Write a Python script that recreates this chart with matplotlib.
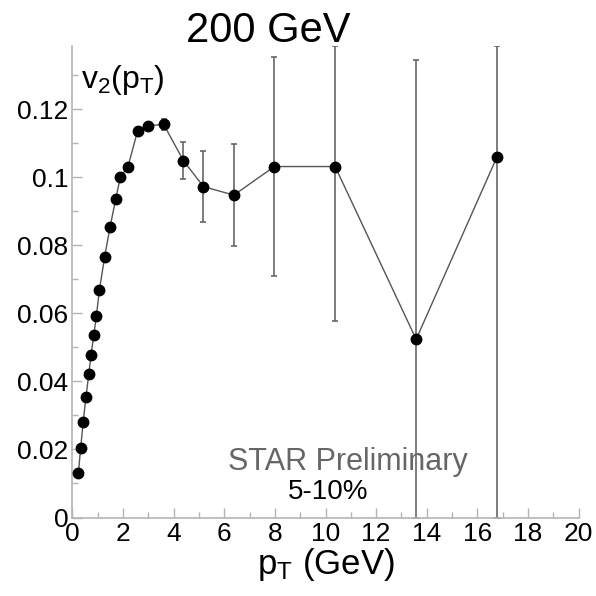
import matplotlib
matplotlib.use('Agg')
import matplotlib.pyplot as plt
from matplotlib.ticker import MultipleLocator, FixedLocator

plt.rcParams['font.family'] = ['Liberation Sans', 'DejaVu Sans']
plt.rcParams['mathtext.fontset'] = 'custom'
plt.rcParams['mathtext.rm'] = 'Liberation Sans'
plt.rcParams['mathtext.it'] = 'Liberation Sans'

# v2(pT), 200 GeV, 5-10% centrality
pt  = [0.24, 0.33, 0.43, 0.54, 0.65, 0.74, 0.85, 0.95, 1.07, 1.28,
       1.49, 1.72, 1.90, 2.20, 2.58, 2.98, 3.61, 4.39, 5.18, 6.38,
       7.98, 10.38, 13.58, 16.77]
v2  = [0.0130, 0.0204, 0.0281, 0.0354, 0.0421, 0.0478, 0.0537, 0.0592, 0.0669, 0.0767,
       0.0854, 0.0938, 0.1002, 0.1032, 0.1137, 0.1152, 0.1156, 0.1049, 0.0973, 0.0948,
       0.1032, 0.1032, 0.0524, 0.1060]
err = [0.0003, 0.0003, 0.0003, 0.0003, 0.0003, 0.0003, 0.0003, 0.0003, 0.0004, 0.0004,
       0.0004, 0.0005, 0.0005, 0.0006, 0.0007, 0.0009, 0.0017, 0.0054, 0.0105, 0.0150,
       0.0322, 0.0453, 0.0822, 0.1200]

xmin, xmax = 0, 20
ymin, ymax = 0, 0.1385

# ROOT-style: error bars cut at the frame edge
err_lo = [min(e, v - ymin) for v, e in zip(v2, err)]
err_hi = [min(e, ymax - v) for v, e in zip(v2, err)]

fig = plt.figure(figsize=(5.96, 5.96), dpi=100)
ax = fig.add_axes([0.1213, 0.1317, 0.8497, 0.7903])

ax.plot(pt, v2, color='#555555', lw=1.0, zorder=2)
ax.errorbar(pt, v2, yerr=[err_lo, err_hi], fmt='none', ecolor='#666666',
            elinewidth=1.2, capsize=2.5, capthick=1.2, zorder=2)
ax.plot(pt, v2, 'o', color='black', ms=7.5, zorder=3)

ax.set_xlim(xmin, xmax)
ax.set_ylim(ymin, ymax)

for s in ['top', 'right']:
    ax.spines[s].set_visible(False)
for s in ['left', 'bottom']:
    ax.spines[s].set_color('#b4b4b4')
    ax.spines[s].set_linewidth(1.2)

ax.xaxis.set_major_locator(MultipleLocator(2))
ax.xaxis.set_minor_locator(MultipleLocator(1))
ax.yaxis.set_major_locator(FixedLocator([0, 0.02, 0.04, 0.06, 0.08, 0.1, 0.12]))
ax.yaxis.set_minor_locator(MultipleLocator(0.01))
ax.set_yticklabels(['0', '0.02', '0.04', '0.06', '0.08', '0.1', '0.12'])

ax.tick_params(which='both', direction='in', color='#b4b4b4', width=1.0,
               labelsize=19, labelcolor='black')
ax.tick_params(which='major', length=7)
ax.tick_params(which='minor', length=4)
ax.tick_params(axis='x', pad=3)
ax.tick_params(axis='y', pad=3)

ax.set_xlabel(r'p$_T$ (GeV)', fontsize=25, labelpad=0)

fig.text(0.45, 0.93, '200 GeV', fontsize=30, ha='center', va='baseline')
fig.text(0.136, 0.852, r'v$_2$(p$_T$)', fontsize=23, ha='left', va='baseline')
fig.text(0.583, 0.211, 'STAR Preliminary', fontsize=22, color='#666666',
         ha='center', va='baseline')
fig.text(0.551, 0.163, '5-10%', fontsize=20, color='black',
         ha='center', va='baseline')

fig.savefig('out.png', dpi=100)
